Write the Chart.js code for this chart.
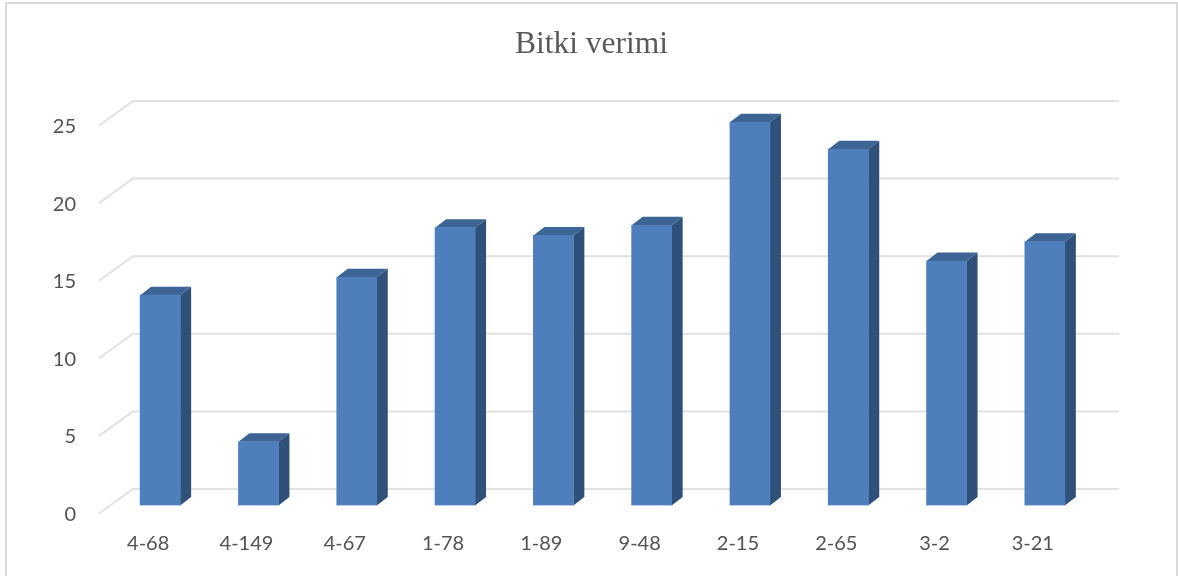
<!DOCTYPE html>
<html>
<head>
<meta charset="utf-8">
<title>Bitki verimi</title>
<style>
html, body { margin: 0; padding: 0; background: #fff; }
#wrap { width: 1178px; height: 576px; }
</style>
<script src="https://cdn.jsdelivr.net/npm/chart.js"></script>
</head>
<body>
<div id="wrap"><canvas id="myChart" width="1178" height="576"></canvas></div>
<script>
const categories = ['4-68', '4-149', '4-67', '1-78', '1-89', '9-48', '2-15', '2-65', '3-2', '3-21'];
const verim = [13.55, 4.1, 14.7, 17.9, 17.4, 18.05, 24.7, 22.95, 15.75, 17.0];
const yTicks = [0, 5, 10, 15, 20, 25];

// fake 3D: side and top faces + the bent grid lines, all hung off the chart's own scales
const depth = { dx: 11, dy: -8.5 };
const depth3d = {
  id: 'depth3d',
  afterLayout(chart) {
    // title sits centred on the frame, not on the padded layout box
    chart.titleBlock.left = 0;
    chart.titleBlock.right = 1183;
  },
  beforeDatasetsDraw(chart) {
    const ctx = chart.ctx;
    const y = chart.scales.y;
    ctx.save();

    // outer frame (no bottom edge, the crop cuts it)
    ctx.strokeStyle = '#d9d9d9';
    ctx.lineWidth = 2;
    ctx.beginPath();
    ctx.moveTo(6, 576);
    ctx.lineTo(6, 3);
    ctx.lineTo(1177, 3);
    ctx.lineTo(1177, 576);
    ctx.stroke();

    ctx.strokeStyle = '#e2e2e2';
    ctx.lineWidth = 2;
    yTicks.forEach(t => {
      const py = y.getPixelForValue(t);
      ctx.beginPath();
      ctx.moveTo(99, py + 8);
      ctx.lineTo(133, py - 16.5);
      ctx.lineTo(1119, py - 16.5);
      ctx.stroke();
    });

    chart.getDatasetMeta(0).data.forEach(bar => {
      const p = bar.getProps(['x', 'y', 'base', 'width'], true);
      const r = p.x + p.width / 2;
      const l = p.x - p.width / 2;
      ctx.fillStyle = '#2f5179';
      ctx.beginPath();
      ctx.moveTo(r, p.y);
      ctx.lineTo(r + depth.dx, p.y + depth.dy);
      ctx.lineTo(r + depth.dx, p.base + depth.dy);
      ctx.lineTo(r, p.base);
      ctx.closePath();
      ctx.fill();
      ctx.fillStyle = '#3c6595';
      ctx.beginPath();
      ctx.moveTo(l, p.y);
      ctx.lineTo(l + depth.dx, p.y + depth.dy);
      ctx.lineTo(r + depth.dx, p.y + depth.dy);
      ctx.lineTo(r, p.y);
      ctx.closePath();
      ctx.fill();
    });
    ctx.restore();
  }
};

new Chart(document.getElementById('myChart'), {
  type: 'bar',
  data: {
    labels: categories,
    datasets: [{
      label: 'Bitki verimi',
      data: verim,
      backgroundColor: '#4e7fbc',
      borderWidth: 0,
      barThickness: 40
    }]
  },
  plugins: [depth3d],
  options: {
    responsive: false,
    animation: false,
    layout: { padding: { left: 0, right: 84, top: 0, bottom: 0 } },
    plugins: {
      legend: { display: false },
      tooltip: { enabled: false },
      title: {
        display: true,
        text: 'Bitki verimi',
        color: '#595959',
        font: { family: '"Liberation Serif"', size: 31.5, weight: 'normal' },
        padding: { top: 26, bottom: 53.7 }
      }
    },
    scales: {
      x: {
        afterFit(s) { s.height = 70.5; },
        grid: { display: false, drawTicks: false },
        border: { display: false },
        ticks: {
          color: '#525252',
          font: { family: 'Lato', size: 20 },
          padding: 26,
          labelOffset: -12,
          maxRotation: 0,
          autoSkip: false
        }
      },
      y: {
        min: 0,
        max: 25,
        afterFit(s) { s.width = 111; },
        grid: { display: false, drawTicks: false },
        border: { display: false },
        ticks: {
          color: '#525252',
          font: { family: 'Lato', size: 20 },
          padding: 35,
          labelOffset: 9,
          stepSize: 5
        }
      }
    }
  }
});
</script>
</body>
</html>
